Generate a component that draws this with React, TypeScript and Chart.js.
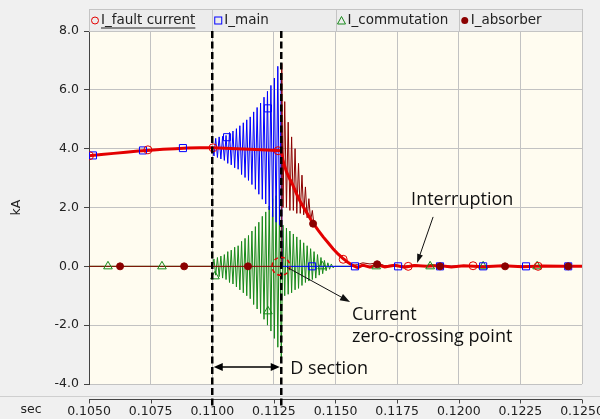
import React, { useEffect, useRef } from 'react';
import { Chart, registerables } from 'chart.js';

Chart.register(...registerables);

// ---------- axes ----------
const xMin = 0.105;
const xMax = 0.125;
const xStep = 0.0025;
const yMin = -4;
const yMax = 8;
const yStep = 2;
const xTitle = 'sec';
const yTitle = 'kA';

const legendLabels = ['I_fault current', 'I_main', 'I_commutation', 'I_absorber'];

// ---------- data (time in s, current in kA) ----------
const preTime = [0.1050, 0.1055, 0.1060, 0.1065, 0.1070, 0.1075, 0.1080, 0.1085, 0.1090, 0.1095];
const preFault = [3.76, 3.80, 3.84, 3.88, 3.92, 3.95, 3.98, 4.00, 4.02, 4.03];

const oscTime = [0.11000, 0.11007, 0.11014, 0.11021, 0.11028, 0.11035, 0.11042, 0.11049, 0.11056, 0.11063,
  0.11070, 0.11077, 0.11084, 0.11091, 0.11098, 0.11105, 0.11112, 0.11119, 0.11126, 0.11133,
  0.11140, 0.11147, 0.11154, 0.11161, 0.11168, 0.11175, 0.11182, 0.11189, 0.11196, 0.11203,
  0.11210, 0.11217, 0.11224, 0.11231, 0.11238, 0.11245, 0.11252, 0.11259, 0.11266, 0.11273, 0.11280];
const oscMain = [4.03, 3.75, 4.35, 3.70, 4.40, 3.65, 4.42, 3.60, 4.45, 3.50,
  4.55, 3.45, 4.60, 3.35, 4.68, 3.30, 4.78, 3.12, 4.88, 3.02,
  4.98, 2.92, 5.08, 2.78, 5.25, 2.62, 5.40, 2.45, 5.55, 2.28,
  5.75, 2.12, 5.95, 1.92, 6.15, 1.68, 6.40, 1.50, 6.80, 1.40, 6.50];
const oscComm = [0, 0.25, -0.30, 0.30, -0.35, 0.35, -0.40, 0.40, -0.45, 0.50,
  -0.55, 0.55, -0.60, 0.65, -0.70, 0.70, -0.80, 0.85, -0.90, 0.95,
  -1.00, 1.05, -1.10, 1.20, -1.30, 1.35, -1.45, 1.50, -1.60, 1.70,
  -1.80, 1.85, -2.00, 2.05, -2.20, 2.30, -2.45, 2.40, -2.75, 2.10, -3.20];

const faultOscTime = [0.1100, 0.1110, 0.1120, 0.1128];
const faultOsc = [4.03, 4.00, 3.96, 3.93];

const ringTime = [0.11287, 0.11294, 0.11301, 0.11308, 0.11315, 0.11322, 0.11329, 0.11336, 0.11343, 0.11350,
  0.11357, 0.11364, 0.11371, 0.11378, 0.11385, 0.11392, 0.11399, 0.11406, 0.11413, 0.11420,
  0.11427, 0.11434, 0.11441, 0.11448, 0.11455, 0.11462, 0.11469, 0.11476, 0.11483, 0.11490, 0.11497];
const ringFault = [3.60, 3.40, 3.22, 3.08, 2.96, 2.85, 2.72, 2.58, 2.45, 2.32,
  2.20, 2.10, 2.00, 1.90, 1.80, 1.70, 1.60, 1.50, 1.42, 1.34];
const ringAbsorber = [2.00, 5.60, 2.00, 4.90, 1.90, 4.40, 1.90, 4.00, 1.80, 3.50,
  1.80, 3.10, 1.75, 2.70, 1.65, 2.30, 1.55, 1.90, 1.38, 1.34];
const ringComm = [1.40, -1.00, 1.30, -0.95, 1.20, -0.90, 1.10, -0.80, 1.00, -0.75,
  0.90, -0.65, 0.80, -0.55, 0.70, -0.50, 0.60, -0.45, 0.50, -0.40,
  0.40, -0.30, 0.30, -0.25, 0.20, -0.15, 0.12, -0.10, 0.08, -0.05, 0];

const tailTime = [0.1143, 0.1145, 0.1147, 0.1149, 0.1151, 0.1153, 0.1155, 0.1157, 0.1159, 0.1161,
  0.1164, 0.1167, 0.1170, 0.1174, 0.1178, 0.1182, 0.1187, 0.1192, 0.1197, 0.1202,
  0.1210, 0.1218, 0.1226, 0.1234, 0.1242, 0.1250];
const tailFault = [1.22, 1.00, 0.80, 0.60, 0.42, 0.27, 0.14, 0.03, -0.04, 0.04,
  -0.03, 0.05, -0.02, 0.04, -0.03, 0.03, 0.00, 0.03, -0.02, 0.02,
  -0.01, 0.02, -0.01, 0.01, 0.00, 0.00];
const tailAbsorber = [1.22, 1.00, 0.80, 0.60, 0.42, 0.27, 0.14, 0.03, 0.06, 0.12,
  0.08, 0.12, 0.02, 0.05, 0.00, 0.05, 0.00, 0.03, 0.00, 0.02,
  0.00, 0.01, 0.00, 0.00, 0.00, 0.00];

const mainTailTime = [0.11283, 0.1250];
const mainTail = [0, 0];
const absorberLeadTime = [0.1050, 0.1128, 0.11282];
const absorberLead = [0, 0, 6.90];
const commLeadTime = [0.1050];
const commLead = [0];
const commTailTime = [0.1160, 0.1186, 0.1189, 0.1192, 0.1250];
const commTail = [0, 0, 0.07, 0, 0];

// marker samples
const faultMarkTime = [0.10502, 0.10739, 0.11003, 0.11267, 0.11531, 0.11795, 0.12058, 0.12322];
const faultMarkValue = [3.76, 3.96, 4.03, 3.93, 0.24, 0.00, 0.02, 0.00];
const mainMarkTime = [0.10516, 0.10719, 0.10881, 0.11060, 0.11226, 0.11405, 0.11579, 0.11754, 0.11924, 0.12099, 0.12273, 0.12444];
const mainMarkValue = [3.77, 3.94, 4.02, 4.39, 5.37, 0, 0, 0, 0, 0, 0, 0];
const commMarkTime = [0.10577, 0.10796, 0.11011, 0.11226, 0.11446, 0.11665, 0.11884, 0.12099, 0.12318];
const commMarkValue = [0, 0, -0.34, -1.53, 0, 0, 0, 0, 0];
const absMarkTime = [0.10626, 0.10886, 0.11145, 0.11409, 0.11669, 0.11924, 0.12188, 0.12444];
const absMarkValue = [0, 0, 0, 1.45, 0.07, 0, 0, 0];

// event times
const sectionStart = 0.1100;
const sectionEnd = 0.1128;

// ---------- helpers ----------
const pts = (t: number[], v: number[]) => v.map((y, i) => ({ x: t[i], y }));

const faultData = [
  ...pts(preTime, preFault),
  ...pts(faultOscTime, faultOsc),
  ...pts(ringTime, ringFault),
  ...pts(tailTime, tailFault),
];
const mainData = [
  ...pts(preTime, preFault),
  ...pts(oscTime, oscMain),
  ...pts(mainTailTime, mainTail),
];
const commData = [
  ...pts(commLeadTime, commLead),
  ...pts(oscTime, oscComm),
  ...pts(ringTime, ringComm),
  ...pts(commTailTime, commTail),
];
const absorberData = [
  ...pts(absorberLeadTime, absorberLead),
  ...pts(ringTime, ringAbsorber),
  ...pts(tailTime, tailAbsorber),
];

const RED = '#e30000';
const BLUE = '#0000ff';
const GREEN = '#17891a';
const MAROON = '#8b0000';
const FONT = '"DejaVu Sans", sans-serif';
const ANN_FONT = '"Open Sans", sans-serif';

function drawArrowHead(ctx: CanvasRenderingContext2D, x1: number, y1: number, x2: number, y2: number, len: number, w: number) {
  const a = Math.atan2(y2 - y1, x2 - x1);
  const bx = x2 - len * Math.cos(a);
  const by = y2 - len * Math.sin(a);
  ctx.beginPath();
  ctx.moveTo(x2, y2);
  ctx.lineTo(bx + (w / 2) * Math.sin(a), by - (w / 2) * Math.cos(a));
  ctx.lineTo(bx - (w / 2) * Math.sin(a), by + (w / 2) * Math.cos(a));
  ctx.closePath();
  ctx.fill();
}

function arrow(ctx: CanvasRenderingContext2D, x1: number, y1: number, x2: number, y2: number, len = 9, w = 7) {
  const a = Math.atan2(y2 - y1, x2 - x1);
  ctx.beginPath();
  ctx.moveTo(x1, y1);
  ctx.lineTo(x2 - (len - 1) * Math.cos(a), y2 - (len - 1) * Math.sin(a));
  ctx.stroke();
  drawArrowHead(ctx, x1, y1, x2, y2, len, w);
}

const decorPlugin = {
  id: 'decor',
  beforeDraw(chart: any) {
    const { ctx, chartArea: a, width, height } = chart;
    ctx.save();
    ctx.fillStyle = '#f0f0f0';
    ctx.fillRect(0, 0, width, height);
    ctx.fillStyle = '#fffcf0';
    ctx.fillRect(a.left, a.top, a.right - a.left, a.bottom - a.top);
    ctx.restore();
  },
  afterDraw(chart: any) {
    const { ctx, chartArea: a, width } = chart;
    const xs = chart.scales.x;
    const ys = chart.scales.y;
    const px = (t: number) => xs.getPixelForValue(t);
    const py = (v: number) => ys.getPixelForValue(v);
    ctx.save();

    // legend strip
    const lTop = 9;
    const lBot = a.top;
    ctx.fillStyle = '#ececec';
    ctx.fillRect(a.left, lTop, a.right - a.left, lBot - lTop);
    ctx.strokeStyle = '#c4c4c4';
    ctx.lineWidth = 1;
    ctx.strokeRect(a.left + 0.5, lTop + 0.5, a.right - a.left, lBot - lTop);
    const cw = (a.right - a.left) / legendLabels.length;
    const cy = (lTop + lBot) / 2 + 0.5;
    legendLabels.forEach((lab, i) => {
      const x0 = a.left + cw * i;
      if (i > 0) {
        ctx.strokeStyle = '#c4c4c4';
        ctx.beginPath();
        ctx.moveTo(Math.round(x0) + 0.5, lTop);
        ctx.lineTo(Math.round(x0) + 0.5, lBot);
        ctx.stroke();
      }
      const ix = x0 + 6;
      ctx.lineWidth = 1;
      if (i === 0) {
        ctx.strokeStyle = RED;
        ctx.beginPath(); ctx.arc(ix, cy, 3.5, 0, Math.PI * 2); ctx.stroke();
      } else if (i === 1) {
        ctx.strokeStyle = BLUE;
        ctx.strokeRect(ix - 3.5, cy - 3.5, 7, 7);
      } else if (i === 2) {
        ctx.strokeStyle = GREEN;
        ctx.beginPath(); ctx.moveTo(ix, cy - 4); ctx.lineTo(ix + 4, cy + 3.5); ctx.lineTo(ix - 4, cy + 3.5); ctx.closePath(); ctx.stroke();
      } else {
        ctx.fillStyle = MAROON;
        ctx.beginPath(); ctx.arc(ix, cy, 3.5, 0, Math.PI * 2); ctx.fill();
      }
      ctx.fillStyle = '#222';
      ctx.font = `13.5px ${FONT}`;
      ctx.textBaseline = 'middle';
      ctx.textAlign = 'left';
      ctx.fillText(lab, ix + 6, cy);
      if (i === 0) {
        const w = ctx.measureText(lab).width;
        ctx.strokeStyle = '#222';
        ctx.beginPath();
        ctx.moveTo(ix + 6, cy + 7.5);
        ctx.lineTo(ix + 6 + w, cy + 7.5);
        ctx.stroke();
      }
    });

    // lower axis band
    const sepY = 396.5;
    const axY = 399.5;
    ctx.strokeStyle = '#cfcfcf';
    ctx.lineWidth = 1;
    ctx.beginPath(); ctx.moveTo(0, sepY); ctx.lineTo(width, sepY); ctx.stroke();
    ctx.strokeStyle = '#444';
    ctx.beginPath(); ctx.moveTo(a.left, axY); ctx.lineTo(a.right, axY); ctx.stroke();
    xs.ticks.forEach((tk: any) => {
      const x = Math.round(px(tk.value)) + 0.5;
      ctx.beginPath(); ctx.moveTo(x, axY); ctx.lineTo(x, axY + 4); ctx.stroke();
    });

    // axis titles
    ctx.fillStyle = '#222';
    ctx.font = `12.5px ${FONT}`;
    ctx.textAlign = 'center';
    ctx.textBaseline = 'middle';
    ctx.fillText(xTitle, 31, 410);
    ctx.save();
    ctx.translate(17, (a.top + a.bottom) / 2);
    ctx.rotate(-Math.PI / 2);
    ctx.fillText(yTitle, 0, 0);
    ctx.restore();

    // dashed section lines
    ctx.strokeStyle = '#000';
    ctx.lineWidth = 2.5;
    ctx.setLineDash([7, 3.5]);
    [sectionStart, sectionEnd].forEach((t) => {
      const x = px(t);
      ctx.beginPath(); ctx.moveTo(x, a.top); ctx.lineTo(x, 407); ctx.stroke();
    });
    ctx.setLineDash([]);

    // D section double arrow
    ctx.lineWidth = 1.5;
    ctx.fillStyle = '#000';
    const dy = py(-3.42);
    const dx1 = px(sectionStart) + 1.5;
    const dx2 = px(sectionEnd) - 1.5;
    ctx.beginPath(); ctx.moveTo(dx1 + 6, dy); ctx.lineTo(dx2 - 6, dy); ctx.stroke();
    drawArrowHead(ctx, dx2, dy, dx1, dy, 9, 8);
    drawArrowHead(ctx, dx1, dy, dx2, dy, 9, 8);

    // zero crossing circle
    ctx.strokeStyle = RED;
    ctx.lineWidth = 1.5;
    ctx.setLineDash([4, 3]);
    ctx.beginPath(); ctx.arc(px(0.11279), py(0), 9, 0, Math.PI * 2); ctx.stroke();
    ctx.setLineDash([]);

    // arrows
    ctx.strokeStyle = '#111';
    ctx.fillStyle = '#111';
    ctx.lineWidth = 1;
    arrow(ctx, px(0.11303), py(-0.03), px(0.11559), py(-1.21), 10, 7);
    arrow(ctx, px(0.11896), py(1.68), px(0.11831), py(0.11), 9, 6);

    // annotation text
    ctx.fillStyle = '#111';
    ctx.font = `18px ${ANN_FONT}`;
    ctx.textBaseline = 'middle';
    ctx.textAlign = 'center';
    ctx.fillText('Interruption', px(0.12014), py(2.26));
    ctx.textAlign = 'left';
    ctx.fillText('Current', px(0.11567), py(-1.65));
    ctx.fillText('zero-crossing point', px(0.11567), py(-2.40));
    ctx.fillText('D section', px(0.11316), py(-3.49));

    ctx.restore();
  },
};

export default function App() {
  const ref = useRef<HTMLCanvasElement>(null);
  useEffect(() => {
    const line = (data: any[], color: string, width: number, order: number) => ({
      type: 'line' as const,
      data,
      borderColor: color,
      borderWidth: width,
      pointRadius: 0,
      tension: 0,
      fill: false,
      order,
    });
    const marks = (t: number[], v: number[], style: string, r: number, color: string, filled: boolean, order: number) => ({
      type: 'line' as const,
      data: pts(t, v),
      showLine: false,
      pointStyle: style,
      pointRadius: r,
      pointBorderWidth: 1,
      pointBorderColor: color,
      pointBackgroundColor: filled ? color : 'rgba(0,0,0,0)',
      order,
    });
    const chart = new Chart(ref.current as HTMLCanvasElement, {
      type: 'line',
      data: {
        datasets: [
          marks(faultMarkTime, faultMarkValue, 'circle', 4, RED, false, 0),
          marks(absMarkTime, absMarkValue, 'circle', 3.5, MAROON, true, 1),
          marks(mainMarkTime, mainMarkValue, 'rect', 5, BLUE, false, 2),
          marks(commMarkTime, commMarkValue, 'triangle', 5, GREEN, false, 3),
          line(faultData, RED, 3, 4),
          line(absorberData, MAROON, 1, 5),
          line(mainData, BLUE, 1, 6),
          line(commData, GREEN, 1, 7),
        ] as any,
      },
      options: {
        responsive: false,
        animation: false,
        events: [],
        layout: { padding: { top: 31, right: 18, left: 0, bottom: 0 } },
        plugins: { legend: { display: false }, tooltip: { enabled: false } },
        scales: {
          x: {
            type: 'linear',
            min: xMin,
            max: xMax,
            afterFit: (s: any) => { s.height = 35; s.paddingLeft = 0; s.paddingRight = 0; },
            ticks: {
              stepSize: xStep,
              maxRotation: 0,
              autoSkip: false,
              padding: 20.5,
              color: '#222',
              font: { family: FONT, size: 12.5 },
              callback: (v: any) => Number(v).toFixed(4),
            },
            grid: { color: '#c2c2c2', drawTicks: false, lineWidth: 1 },
            border: { display: false },
          },
          y: {
            type: 'linear',
            min: yMin,
            max: yMax,
            afterFit: (s: any) => { s.width = 89; s.paddingTop = 0; s.paddingBottom = 0; },
            ticks: {
              stepSize: yStep,
              padding: 5,
              color: '#222',
              font: { family: FONT, size: 12.5 },
              callback: (v: any) => Number(v).toFixed(1),
            },
            grid: { color: '#c2c2c2', tickColor: '#444', tickLength: 5, lineWidth: 1 },
            border: { display: true, color: '#444', width: 1 },
          },
        },
      } as any,
      plugins: [decorPlugin],
    });
    return () => chart.destroy();
  }, []);
  return (
    <div style={{ position: 'fixed', left: 0, top: 0, width: 600, height: 419, background: '#f0f0f0' }}>
      <canvas ref={ref} width={600} height={419} style={{ display: 'block', width: 600, height: 419 }} />
    </div>
  );
}
